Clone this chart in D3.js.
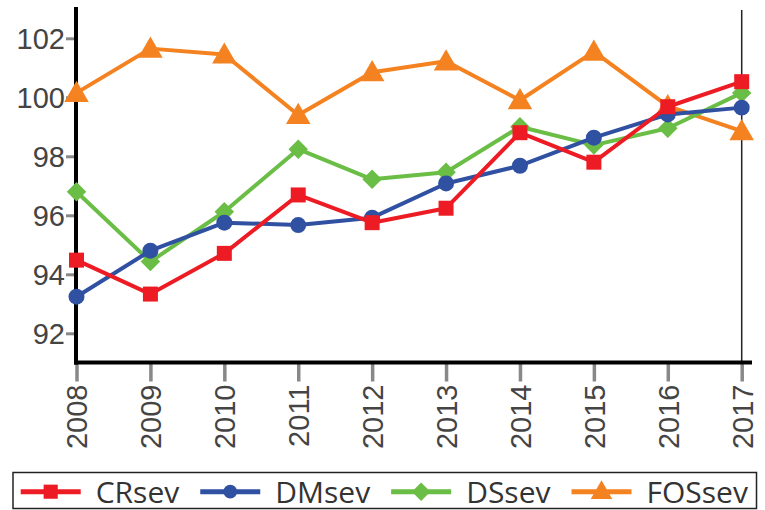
<!DOCTYPE html>
<html>
<head>
<meta charset="utf-8">
<script src="https://cdn.jsdelivr.net/npm/d3@7"></script>
<style>
  body { margin: 0; background: #fff; }
  svg { display: block; font-family: "Open Sans", sans-serif; }
</style>
</head>
<body>
<svg id="chart" width="765" height="510"></svg>
<script>
// Data
const years = [2008, 2009, 2010, 2011, 2012, 2013, 2014, 2015, 2016, 2017];
const crSev  = [94.48, 93.33, 94.71, 96.69, 95.75, 96.24, 98.80, 97.80, 99.68, 100.53];
const dmSev  = [93.24, 94.80, 95.75, 95.67, 95.92, 97.08, 97.68, 98.63, 99.42, 99.65];
const dsSev  = [96.80, 94.43, 96.12, 98.24, 97.22, 97.46, 99.00, 98.38, 98.95, 100.15];
const fosSev = [100.15, 101.65, 101.45, 99.40, 100.85, 101.22, 99.90, 101.55, 99.70, 98.85];
const yTicks = [92, 94, 96, 98, 100, 102];

const series = [
  { name: "CRsev",  values: crSev,  color: "#ED1C24", shape: "square" },
  { name: "DMsev",  values: dmSev,  color: "#3050A2", shape: "circle" },
  { name: "DSsev",  values: dsSev,  color: "#6ABD45", shape: "diamond" },
  { name: "FOSsev", values: fosSev, color: "#F58220", shape: "triangle" }
];

const svg = d3.select("#chart");

const x = d3.scalePoint().domain(years).range([76.5, 741.7]);
const y = d3.scaleLinear().domain([91, 103]).range([362.8, 8.8]);

// diamond = square turned 45 degrees
const symbolFor = {
  square:   d3.symbol().type(d3.symbolSquare).size(225),
  circle:   d3.symbol().type(d3.symbolCircle).size(200),
  diamond:  d3.symbol().type(d3.symbolSquare).size(190),
  triangle: d3.symbol().type(d3.symbolTriangle).size(260)
};
const legendSymbol = {
  square:   d3.symbol().type(d3.symbolSquare).size(200),
  circle:   d3.symbol().type(d3.symbolCircle).size(150),
  diamond:  d3.symbol().type(d3.symbolSquare).size(170),
  triangle: d3.symbol().type(d3.symbolTriangle).size(200)
};
const rot = s => s === "diamond" ? " rotate(45)" : "";

// y axis ticks
const yAxis = svg.append("g")
  .attr("transform", `translate(76,0)`)
  .call(d3.axisLeft(y).tickValues(yTicks).tickSize(10).tickPadding(1));
yAxis.select(".domain").remove();
yAxis.selectAll(".tick line").attr("stroke", "#888").attr("stroke-width", 3);
yAxis.selectAll(".tick text")
  .attr("fill", "#444")
  .style("font-size", "29px")
  .attr("dy", "0.36em");

// x axis ticks
const xAxis = svg.append("g")
  .attr("transform", `translate(0,362.5)`)
  .call(d3.axisBottom(x).tickSize(19).tickPadding(0));
xAxis.select(".domain").remove();
xAxis.selectAll(".tick line").attr("stroke", "#888").attr("stroke-width", 3.5);
xAxis.selectAll(".tick text")
  .attr("fill", "#444")
  .style("font-size", "29px")
  .attr("text-anchor", "end")
  .attr("transform", "rotate(-90)")
  .attr("x", -22)
  .attr("y", 0)
  .attr("dy", "0.36em");

// right guide line
svg.append("line")
  .attr("x1", x(2017)).attr("x2", x(2017))
  .attr("y1", 10).attr("y2", 362)
  .attr("stroke", "#222").attr("stroke-width", 1.5);

// axis lines
svg.append("line")
  .attr("x1", 76).attr("x2", 76).attr("y1", 7).attr("y2", 364.5)
  .attr("stroke", "#000").attr("stroke-width", 4);
svg.append("line")
  .attr("x1", 74).attr("x2", 752).attr("y1", 362.5).attr("y2", 362.5)
  .attr("stroke", "#000").attr("stroke-width", 4);

// lines and markers, drawn back to front
const line = d3.line().x((d, i) => x(years[i])).y(d => y(d));
series.slice().reverse().forEach(s => {
  const g = svg.append("g");
  g.append("path")
    .attr("d", line(s.values))
    .attr("fill", "none")
    .attr("stroke", s.color)
    .attr("stroke-width", 4)
    .attr("stroke-linejoin", "round");
  g.selectAll("path.mark")
    .data(s.values)
    .enter()
    .append("path")
    .attr("class", "mark")
    .attr("d", symbolFor[s.shape])
    .attr("transform", (d, i) => `translate(${x(years[i])},${y(d) + (s.shape === "triangle" ? 2 : 0)})` + rot(s.shape))
    .attr("fill", s.color);
});

// legend
const legend = svg.append("g");
legend.append("rect")
  .attr("x", 13).attr("y", 472.5)
  .attr("width", 743.5).attr("height", 36)
  .attr("fill", "#fff").attr("stroke", "#222").attr("stroke-width", 1.5);

let lx = 20.7;
const ly = 491.7;
series.forEach(s => {
  const item = legend.append("g");
  item.append("line")
    .attr("x1", lx).attr("x2", lx + 60)
    .attr("y1", ly).attr("y2", ly)
    .attr("stroke", s.color).attr("stroke-width", 5);
  item.append("path")
    .attr("d", legendSymbol[s.shape])
    .attr("transform", `translate(${lx + 30},${ly + (s.shape === "triangle" ? 1 : 0)})` + rot(s.shape))
    .attr("fill", s.color);
  const t = item.append("text")
    .attr("x", lx + 75).attr("y", ly)
    .attr("dy", "0.36em")
    .attr("fill", "#333")
    .style("font-size", "30px")
    .text(s.name);
  lx += 75 + t.node().getComputedTextLength() + 21;
});
</script>
</body>
</html>
